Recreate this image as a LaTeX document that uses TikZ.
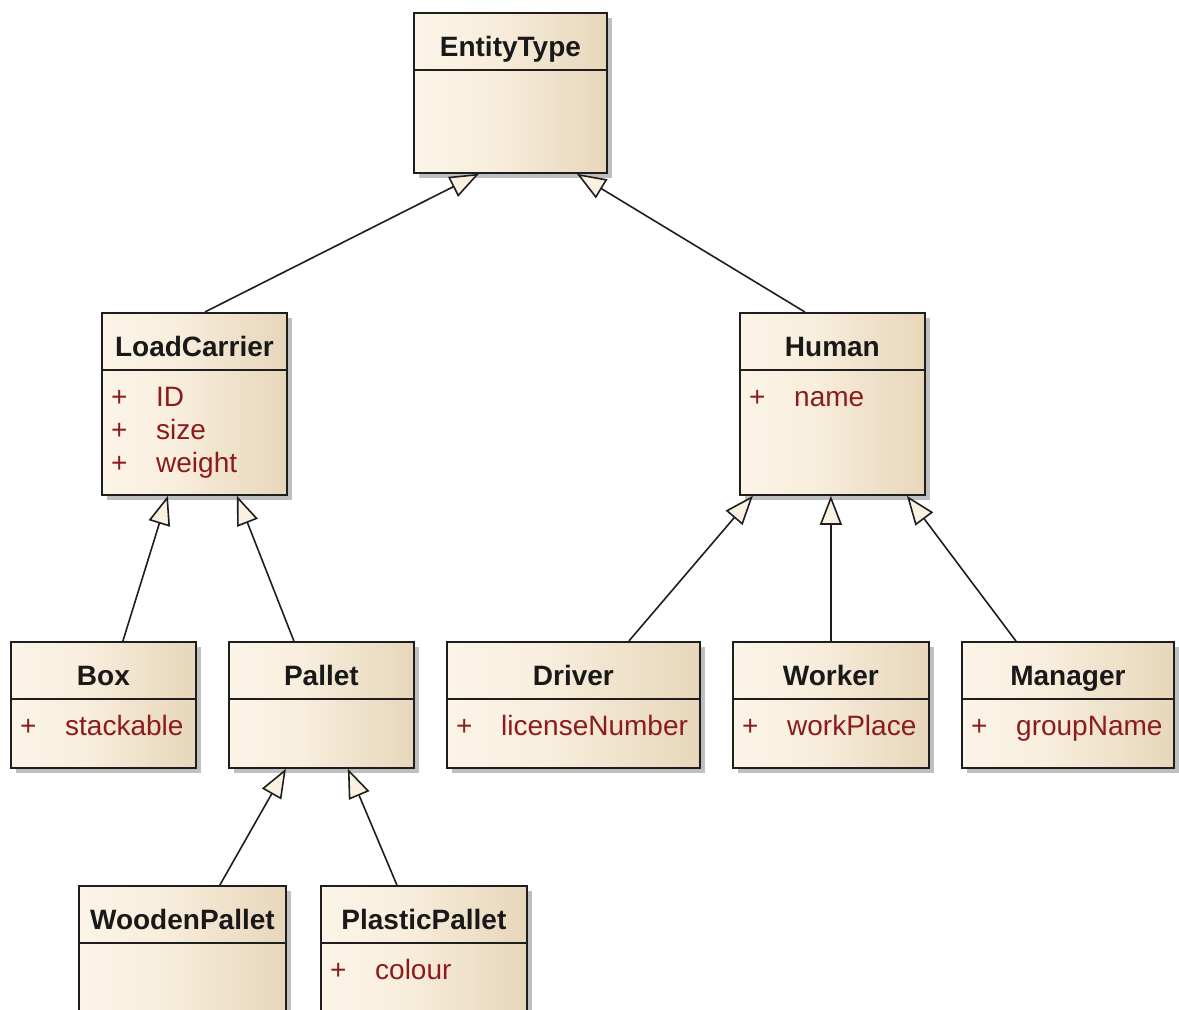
\documentclass[tikz,border=0pt]{standalone}
\usepackage{fontspec}
\setmainfont{Liberation Sans}
\usetikzlibrary{arrows.meta,shadows}

\definecolor{fillA}{HTML}{FBF4E7}
\definecolor{fillB}{HTML}{F8EEDD}
\definecolor{fillC}{HTML}{E7D6BA}
\definecolor{arrowfill}{HTML}{FAF1E1}
\definecolor{attrred}{HTML}{8C1C1C}
\definecolor{inkline}{HTML}{1E1E1E}

% light cream on the left, darkening to tan on the right
\pgfdeclarehorizontalshading{umlfill}{100bp}{%
  color(0bp)=(fillA); color(25bp)=(fillA); color(45bp)=(fillB);
  color(75bp)=(fillC); color(100bp)=(fillC)}

\tikzset{
  classbox/.style={rectangle, draw=inkline, line width=1.8pt, shading=umlfill,
    inner sep=0pt, anchor=north west,
    drop shadow={shadow xshift=5pt, shadow yshift=-5pt, fill=black!25, opacity=1}},
  divider/.style={draw=inkline, line width=1.8pt},
  titletext/.style={inner sep=0pt, anchor=base,
    font=\fontsize{28}{34}\selectfont\bfseries, text=black!90},
  attrtext/.style={inner sep=0pt, anchor=base west,
    font=\fontsize{28}{34}\selectfont, text=attrred},
  generalization/.style={draw=inkline, line width=1.6pt, line join=miter,
    -{Triangle[length=29pt, width=22pt, fill=arrowfill]}},
}

% class box: name, left, top, width, height, title
\newcommand\umlclass[6]{%
  \node[classbox, minimum width=#4pt, minimum height=#5pt] (#1) at (#2,#3) {};
  \draw[divider] ([yshift=-58pt]#1.north west) -- ([yshift=-58pt]#1.north east);
  \node[titletext] (#1-title) at ([yshift=-44pt]#1.north) {#6};
}
% public attribute: class, row, attribute name
\newcommand\umlattr[3]{%
  \node[attrtext] (#1-vis#2) at ([xshift=10pt,yshift={-(94+33*#2)*1pt}]#1.north west) {+};
  \node[attrtext] (#1-attr#2) at ([xshift=55pt,yshift={-(94+33*#2)*1pt}]#1.north west) {#3};
}

\begin{document}
\begin{tikzpicture}[x=1pt, y=-1pt]
  \useasboundingbox (0,0) rectangle (1179,1010);
  \clip (0,0) rectangle (1179,1010);
  \fill[white] (0,0) rectangle (1179,1010);

  \umlclass{EntityType}{413}{12}{193}{160}{EntityType}

  \umlclass{LoadCarrier}{101}{312}{185}{182}{LoadCarrier}
  \umlattr{LoadCarrier}{0}{ID}
  \umlattr{LoadCarrier}{1}{size}
  \umlattr{LoadCarrier}{2}{weight}

  \umlclass{Human}{739}{312}{185}{182}{Human}
  \umlattr{Human}{0}{name}

  \umlclass{Box}{10}{641}{185}{126}{Box}
  \umlattr{Box}{0}{stackable}

  \umlclass{Pallet}{228}{641}{185}{126}{Pallet}

  \umlclass{Driver}{446}{641}{253}{126}{Driver}
  \umlattr{Driver}{0}{licenseNumber}

  \umlclass{Worker}{732}{641}{196}{126}{Worker}
  \umlattr{Worker}{0}{workPlace}

  \umlclass{Manager}{961}{641}{212}{126}{Manager}
  \umlattr{Manager}{0}{groupName}

  \umlclass{WoodenPallet}{78}{885}{207}{160}{WoodenPallet}

  \umlclass{PlasticPallet}{320}{885}{206}{160}{PlasticPallet}
  \umlattr{PlasticPallet}{0}{colour}

  % generalizations
  \draw[generalization] ([xshift=10.5pt]LoadCarrier.north) -- ([xshift=-31.5pt]EntityType.south);
  \draw[generalization] ([xshift=-27.5pt]Human.north) -- ([xshift=66.5pt]EntityType.south);
  \draw[generalization] ([xshift=19.5pt]Box.north) -- ([xshift=-26.5pt]LoadCarrier.south);
  \draw[generalization] ([xshift=-27.5pt]Pallet.north) -- ([xshift=42.5pt]LoadCarrier.south);
  \draw[generalization] ([xshift=55.5pt]Driver.north) -- ([xshift=-79.5pt]Human.south);
  \draw[generalization] ([xshift=0pt]Worker.north) -- ([xshift=-1.5pt]Human.south);
  \draw[generalization] ([xshift=-52pt]Manager.north) -- ([xshift=74.5pt]Human.south);
  \draw[generalization] ([xshift=37.5pt]WoodenPallet.north) -- ([xshift=-35.5pt]Pallet.south);
  \draw[generalization] ([xshift=-27pt]PlasticPallet.north) -- ([xshift=26.5pt]Pallet.south);
\end{tikzpicture}
\end{document}
